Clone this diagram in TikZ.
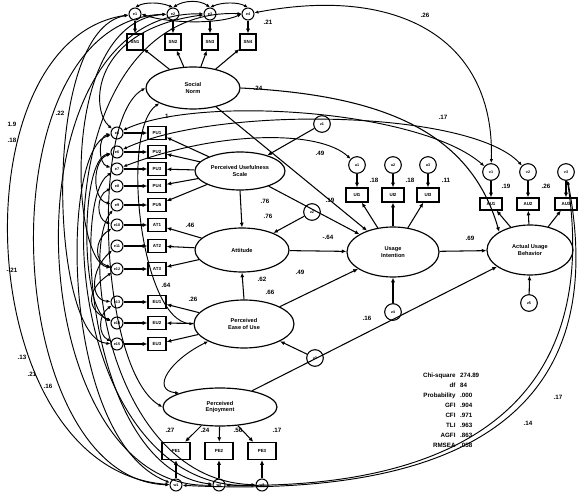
\documentclass[tikz,border=0pt]{standalone}
\usepackage{fontspec}
\setmainfont{Liberation Sans}
\usetikzlibrary{shapes.geometric,arrows.meta}
\begin{document}
\begin{tikzpicture}[x=0.3mm,y=-0.3mm,
  lat/.style={ellipse,draw,line width=1pt,inner sep=0pt,align=center,font=\fontsize{4.8}{5.4}\selectfont\bfseries},
  obs/.style={rectangle,draw,line width=1pt,inner sep=0pt,minimum width=5.4mm,minimum height=3.9mm,font=\fontsize{3.8}{4}\selectfont\bfseries},
  err/.style={circle,draw,line width=0.9pt,inner sep=0pt,minimum size=3.6mm,font=\fontsize{3.2}{4}\selectfont\bfseries},
  res/.style={err,minimum size=5mm},
  lbl/.style={font=\fontsize{5.3}{6}\selectfont\bfseries,inner sep=0.5pt},
  pth/.style={-{Latex[length=1.4mm,width=1.2mm]},line width=0.9pt},
  cov/.style={{Latex[length=1.2mm,width=1mm]}-{Latex[length=1.2mm,width=1mm]},line width=0.8pt},
]
\useasboundingbox (0,0) rectangle (581,495);

% latent variables
\node[lat,minimum width=28.2mm,minimum height=12.6mm] (L1) at (193,88) {Social\\Norm};
\node[lat,minimum width=27mm,minimum height=11.4mm] (L2) at (240,171) {Perceived Usefulness\\Scale};
\node[lat,minimum width=28.2mm,minimum height=13.2mm] (L3) at (242,250) {Attitude};
\node[lat,minimum width=30mm,minimum height=14.4mm] (L4) at (244,324) {Perceived\\Ease of Use};
\node[lat,minimum width=34.2mm,minimum height=11.4mm] (L5) at (220,407) {Perceived\\Enjoyment};
\node[lat,minimum width=27.6mm,minimum height=15mm] (L6) at (393,252) {Usage\\Intention};
\node[lat,minimum width=25.8mm,minimum height=15mm] (L7) at (530,250) {Actual Usage\\Behavior};

% top indicators
\foreach \i/\x in {1/135,2/173,3/210,4/248}{
  \node[obs,minimum width=4.8mm,minimum height=4.8mm] (x\i) at (\x,42) {SN\i};
  \node[err] (t\i) at (\x,14) {e\i};
  \draw[pth] (t\i) -- (x\i);
  \draw[pth] (L1) -- (x\i);
}

% left indicators
\foreach \i/\y/\L/\t/\e in {1/133/L2/PU1/e5,2/152/L2/PU2/e6,3/169/L2/PU3/e7,4/186/L2/PU4/e8,5/205/L2/PU5/e9,
  6/225/L3/AT1/e10,7/246/L3/AT2/e11,8/269/L3/AT3/e12,
  9/302/L4/EU1/e13,10/323/L4/EU2/e14,11/344/L4/EU3/e15}{
  \node[obs] (y\i) at (157,\y) {\t};
  \node[err] (a\i) at (117,\y) {\e};
  \draw[pth] (a\i) -- (y\i);
  \draw[pth] (\L) -- (y\i);
}

% usage intention indicators
\foreach \i/\x in {1/357,2/393,3/428}{
  \node[obs,minimum width=6.6mm,minimum height=4.2mm] (ui\i) at (\x,195) {UI\i};
  \node[res] (u\i) at (\x,165) {u\i};
  \draw[pth] (u\i) -- (ui\i);
  \draw[pth] (L6) -- (ui\i);
}
% actual usage indicators
\foreach \i/\x in {1/491,2/528,3/566}{
  \node[obs,minimum width=6.6mm,minimum height=3.6mm] (au\i) at (\x,204) {AU\i};
  \node[res] (v\i) at (\x,172) {v\i};
  \draw[pth] (v\i) -- (au\i);
  \draw[pth] (L7) -- (au\i);
}
% enjoyment indicators
\foreach \i/\x in {1/176,2/219,3/262}{
  \node[obs,minimum width=8.4mm,minimum height=5.1mm] (pe\i) at (\x,451) {PE\i};
  \node[err] (w\i) at (\x,485) {w\i};
  \draw[pth] (w\i) -- (pe\i);
  \draw[pth] (L5) -- (pe\i);
}

% residuals
\node[res] (z2) at (322,124) {z1};
\node[res] (z3) at (312,212) {z2};
\node[res] (z4) at (315,358) {z3};
\node[res] (z6) at (393,312) {z4};
\node[res] (z7) at (529,303) {z5};
\draw[pth] (z2) -- (L2);
\draw[pth] (z3) -- (L3);
\draw[pth] (z4) -- (L4);
\draw[pth] (z6) -- (L6);
\draw[pth] (z7) -- (L7);

% structural paths
\draw[pth] (L2.south) -- (L3.north);
\draw[pth] (L4.north) -- (L3.south);
\draw[pth] (L2) -- (L6);
\draw[pth] (L3) -- (L6);
\draw[pth] (L4) -- (L6);
\draw[pth] (L6) -- (L7);
\draw[pth] (L5) -- (L7);
\draw[pth] (L1) -- (L6);
\draw[pth] (L1.east) .. controls (380,95) and (470,130) .. (L7.north west);

% latent covariances
\draw[cov] (L1.west) .. controls (90,120) and (100,370) .. (L5.west);
\draw[cov] (L1.south west) .. controls (120,130) and (140,320) .. (L4.west);
\draw[cov] (L4.south west) .. controls (170,360) and (150,390) .. (L5.north west);

% big left arcs
\draw[cov] (t1) .. controls (-45,40) and (-30,470) .. (w1);
\draw[cov] (t2) .. controls (-20,20) and (0,480) .. (w1);
\draw[cov] (t3) .. controls (0,10) and (20,490) .. (w2);
\draw[cov] (t4) .. controls (20,5) and (40,495) .. (w3);
\draw[cov] (a1) .. controls (60,150) and (60,440) .. (w1);
\draw[cov] (a3) .. controls (70,200) and (90,470) .. (w2);
\draw[cov] (a5) .. controls (80,250) and (110,480) .. (w3);
\draw[cov] (t1) .. controls (40,30) and (50,340) .. (a11);
\draw[cov] (t2) .. controls (60,20) and (70,260) .. (a8);
\draw[cov] (a2) .. controls (80,160) and (80,310) .. (a10);
\draw[cov] (t3) .. controls (90,30) and (90,110) .. (a1);

% short left arcs
\draw[cov] (a1) .. controls (98,136) and (98,164) .. (a3);
\draw[cov] (a2) .. controls (92,160) and (92,200) .. (a5);
\draw[cov] (a4) .. controls (96,195) and (96,220) .. (a6);
\draw[cov] (a6) .. controls (94,240) and (94,262) .. (a8);
\draw[cov] (a7) .. controls (90,270) and (90,300) .. (a9);
\draw[cov] (a9) .. controls (98,315) and (98,335) .. (a11);
\draw[cov] (a8) .. controls (86,290) and (86,310) .. (a10);

% top arcs
\draw[cov] (t1.north) .. controls (145,2) and (160,2) .. (t2.north);
\draw[cov] (t2.north) .. controls (185,0) and (200,0) .. (t3.north);
\draw[cov] (t3.north) .. controls (222,2) and (238,2) .. (t4.north);
\draw[cov] (t1.east) .. controls (170,24) and (220,24) .. (t4.west);

% arcs to the right
\draw[cov] (a1) .. controls (200,95) and (420,110) .. (v1);
\draw[cov] (a2) .. controls (220,105) and (470,110) .. (v2);
\draw[cov] (a3) .. controls (220,130) and (320,130) .. (u1);
\draw[cov] (t4) .. controls (400,-15) and (495,40) .. (v1);
\draw[cov] (w1) .. controls (480,500) and (610,400) .. (v3);
\draw[cov] (w2) .. controls (470,490) and (600,395) .. (v3);

% fit statistics
\node[lbl,anchor=north east,font=\fontsize{5.3}{8.5}\selectfont\bfseries] (fit) at (480,370) {%
\begin{tabular}{@{}r@{\hspace{4pt}}l@{}}
Chi-square & 274.89\\
df & 84\\
Probability & .000\\
GFI & .904\\
CFI & .971\\
TLI & .963\\
AGFI & .863\\
RMSEA & .058
\end{tabular}};

% coefficient labels
\foreach \n/\x/\y/\t in {1/425/15/.26,2/443/117/.17,3/258/88/.24,4/268/22/.21,5/166/116/.1,
  6/12/124/1.9,7/12/140/.18,8/60/113/.22,9/12/270/-.21,10/22/357/.13,11/32/374/.21,12/48/386/.16,
  13/166/285/.64,14/193/299/.26,15/265/201/.76,16/268/216/.76,17/262/279/.62,18/270/292/.66,
  19/300/272/.49,20/328/237/-.64,21/330/200/.19,22/320/153/.49,23/374/180/.18,24/410/180/.18,
  25/446/180/.11,26/506/186/.19,27/546/186/.26,28/470/238/.69,29/367/318/.16,30/558/397/.17,
  31/528/423/.14,32/190/225/.46,33/170/430/.27,34/205/430/.24,35/238/430/.56,36/277/430/.17}{
  \node[lbl] (lab\n) at (\x,\y) {\t};
}
\end{tikzpicture}
\end{document}
